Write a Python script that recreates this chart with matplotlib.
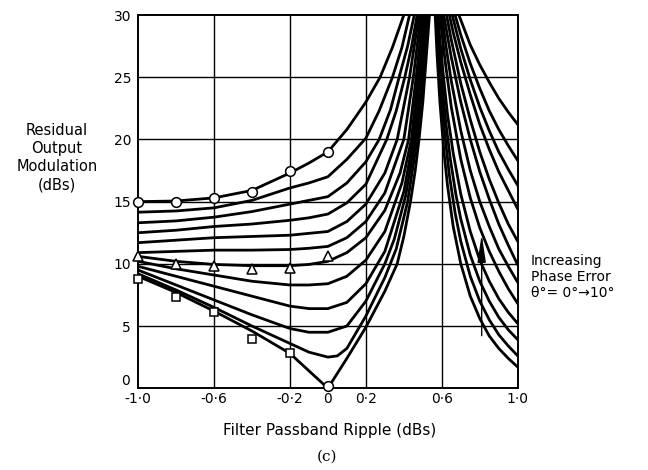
import matplotlib
matplotlib.use("Agg")
import matplotlib.pyplot as plt

# left branches (ripple below the pole), lowest phase error first
c0_lx = [-1.0, -0.8, -0.6, -0.4, -0.2, -0.1, 0.0, 0.1, 0.2, 0.3, 0.365, 0.4, 0.435, 0.46, 0.48, 0.5, 0.515, 0.535]
c0_ly = [9.0, 7.7, 6.2, 4.6, 2.8, 1.4, 0.0, 2.4, 4.9, 7.8, 10.0, 12.2, 15.0, 17.5, 20.0, 23.0, 26.0, 30.0]
c1_lx = [-1.0, -0.8, -0.6, -0.4, -0.2, -0.1, 0.0, 0.05, 0.1, 0.2, 0.3, 0.36, 0.42, 0.47, 0.5, 0.525]
c1_ly = [9.2, 7.9, 6.5, 5.0, 3.6, 2.9, 2.5, 2.6, 3.2, 5.8, 8.9, 11.2, 15.0, 20.0, 25.0, 30.0]
c2_lx = [-1.0, -0.8, -0.6, -0.4, -0.2, -0.1, 0.0, 0.1, 0.2, 0.3, 0.35, 0.41, 0.46, 0.49, 0.52]
c2_ly = [9.5, 8.3, 7.1, 5.9, 4.8, 4.5, 4.5, 5.0, 7.0, 10.0, 12.0, 15.5, 20.0, 24.0, 30.0]
c3_lx = [-1.0, -0.8, -0.6, -0.4, -0.2, -0.1, 0.0, 0.1, 0.2, 0.3, 0.4, 0.45, 0.485, 0.51]
c3_ly = [9.8, 9.0, 8.2, 7.4, 6.6, 6.4, 6.4, 6.9, 8.4, 11.0, 15.8, 20.0, 25.0, 30.0]
c4_lx = [-1.0, -0.8, -0.6, -0.4, -0.2, -0.1, 0.0, 0.1, 0.2, 0.3, 0.39, 0.44, 0.475, 0.505]
c4_ly = [10.2, 9.6, 9.1, 8.6, 8.3, 8.3, 8.4, 9.0, 10.3, 12.6, 16.5, 20.0, 25.0, 30.0]
c5_lx = [-1.0, -0.8, -0.6, -0.4, -0.2, -0.1, 0.0, 0.1, 0.2, 0.3, 0.38, 0.425, 0.465, 0.5]
c5_ly = [10.6, 10.2, 9.95, 9.85, 9.85, 9.95, 10.2, 10.9, 12.1, 14.3, 17.3, 20.0, 25.0, 30.0]
c6_lx = [-1.0, -0.8, -0.6, -0.4, -0.2, -0.1, 0.0, 0.1, 0.2, 0.3, 0.4, 0.45, 0.49]
c6_ly = [10.9, 11.0, 11.1, 11.1, 11.15, 11.25, 11.4, 12.1, 13.4, 15.7, 20.0, 25.0, 30.0]
c7_lx = [-1.0, -0.8, -0.6, -0.4, -0.2, -0.1, 0.0, 0.1, 0.2, 0.3, 0.365, 0.43, 0.48]
c7_ly = [11.7, 11.9, 12.1, 12.2, 12.3, 12.45, 12.6, 13.4, 14.8, 17.3, 20.0, 25.0, 30.0]
c8_lx = [-1.0, -0.8, -0.6, -0.4, -0.2, -0.1, 0.0, 0.1, 0.2, 0.31, 0.36, 0.405, 0.44, 0.47]
c8_ly = [12.5, 12.7, 13.0, 13.2, 13.5, 13.7, 14.0, 14.9, 16.4, 20.0, 22.3, 25.0, 27.4, 30.0]
c9_lx = [-1.0, -0.8, -0.6, -0.4, -0.2, -0.1, 0.0, 0.1, 0.2, 0.27, 0.33, 0.375, 0.42, 0.455]
c9_ly = [13.3, 13.45, 13.75, 14.2, 14.8, 15.1, 15.4, 16.5, 18.2, 20.0, 22.4, 25.0, 27.5, 30.0]
c10_lx = [-1.0, -0.8, -0.6, -0.4, -0.2, -0.1, 0.0, 0.1, 0.2, 0.27, 0.34, 0.39, 0.43]
c10_ly = [14.15, 14.25, 14.5, 15.1, 16.1, 16.5, 17.0, 18.4, 20.1, 22.3, 25.0, 27.4, 30.0]
c11_lx = [-1.0, -0.8, -0.6, -0.4, -0.2, -0.1, 0.0, 0.1, 0.2, 0.275, 0.34, 0.4]
c11_ly = [15.0, 15.05, 15.3, 15.9, 17.3, 18.1, 19.0, 20.8, 23.0, 25.0, 27.4, 30.0]

# right branches (ripple above the pole)
c0_rx = [0.565, 0.575, 0.59, 0.61, 0.63, 0.66, 0.7, 0.75, 0.8, 0.85, 0.9, 0.95, 1.0]
c0_ry = [30.0, 26.8, 23.0, 19.2, 16.3, 13.0, 10.0, 7.4, 5.6, 4.2, 3.2, 2.4, 1.7]
c1_rx = [0.57, 0.58, 0.595, 0.615, 0.64, 0.67, 0.7, 0.75, 0.8, 0.85, 0.9, 0.95, 1.0]
c1_ry = [30.0, 27.3, 24.0, 20.5, 17.1, 14.1, 11.8, 9.0, 7.0, 5.5, 4.3, 3.4, 2.6]
c2_rx = [0.575, 0.585, 0.6, 0.62, 0.645, 0.675, 0.7, 0.75, 0.8, 0.85, 0.9, 0.95, 1.0]
c2_ry = [30.0, 27.7, 24.7, 21.5, 18.4, 15.5, 13.6, 10.7, 8.6, 7.0, 5.7, 4.7, 3.9]
c3_rx = [0.58, 0.59, 0.605, 0.63, 0.66, 0.7, 0.75, 0.8, 0.85, 0.9, 0.95, 1.0]
c3_ry = [30.0, 28.0, 25.6, 22.0, 18.9, 15.6, 12.6, 10.3, 8.6, 7.2, 6.1, 5.2]
c4_rx = [0.59, 0.6, 0.62, 0.65, 0.7, 0.75, 0.8, 0.85, 0.9, 0.95, 1.0]
c4_ry = [30.0, 28.6, 26.0, 22.6, 18.4, 15.3, 12.9, 11.0, 9.4, 8.0, 6.8]
c5_rx = [0.6, 0.62, 0.65, 0.7, 0.75, 0.8, 0.85, 0.9, 0.95, 1.0]
c5_ry = [30.0, 27.7, 24.7, 20.7, 17.5, 15.0, 13.0, 11.2, 9.8, 8.5]
c6_rx = [0.61, 0.65, 0.7, 0.75, 0.8, 0.85, 0.9, 0.95, 1.0]
c6_ry = [30.0, 26.6, 23.0, 20.0, 17.4, 15.2, 13.2, 11.5, 9.9]
c7_rx = [0.625, 0.65, 0.7, 0.75, 0.8, 0.85, 0.9, 0.95, 1.0]
c7_ry = [30.0, 28.0, 24.5, 21.6, 19.0, 16.8, 14.9, 13.2, 11.8]
c8_rx = [0.64, 0.66, 0.7, 0.75, 0.8, 0.85, 0.9, 0.95, 1.0]
c8_ry = [30.0, 28.6, 26.2, 23.6, 21.2, 19.2, 17.4, 15.9, 14.4]
c9_rx = [0.655, 0.7, 0.75, 0.8, 0.85, 0.9, 0.95, 1.0]
c9_ry = [30.0, 27.3, 24.8, 22.6, 20.7, 19.0, 17.6, 16.3]
c10_rx = [0.67, 0.7, 0.75, 0.8, 0.85, 0.9, 0.95, 1.0]
c10_ry = [30.0, 28.4, 26.1, 24.1, 22.3, 20.8, 19.5, 18.3]
c11_rx = [0.69, 0.75, 0.8, 0.85, 0.9, 0.95, 1.0]
c11_ry = [30.0, 27.6, 26.0, 24.6, 23.3, 22.2, 21.2]

# measured points
circ_x = [-1.0, -0.8, -0.6, -0.4, -0.2, 0.0]
circ_y = [15.0, 15.0, 15.3, 15.75, 17.45, 19.0]
tri_x = [-1.0, -0.8, -0.6, -0.4, -0.2, 0.0]
tri_y = [10.6, 10.0, 9.85, 9.6, 9.65, 10.6]
sq_x = [-1.0, -0.8, -0.6, -0.4, -0.2]
sq_y = [8.8, 7.35, 6.15, 3.95, 2.8]
zero_x = [0.0]
zero_y = [0.15]

x_ticks = [-1.0, -0.6, -0.2, 0.0, 0.2, 0.6, 1.0]
x_ticklabels = ["-1·0", "-0·6", "-0·2", "0", "0·2", "0·6", "1·0"]
y_ticks = [0, 5, 10, 15, 20, 25, 30]
y_ticklabels = ["", "5", "10", "15", "20", "25", "30"]


def main():
    fig = plt.figure(figsize=(6.48, 4.70), dpi=100)
    ax = fig.add_axes([0.213, 0.174, 0.586, 0.794])

    # siatka
    for gx in [-0.6, -0.2, 0.2, 0.6]:
        ax.axvline(gx, color="black", lw=1.0, zorder=1)
    for gy in [5, 10, 15, 20, 25]:
        ax.axhline(gy, color="black", lw=1.0, zorder=1)

    left = [(c0_lx, c0_ly), (c1_lx, c1_ly), (c2_lx, c2_ly), (c3_lx, c3_ly),
            (c4_lx, c4_ly), (c5_lx, c5_ly), (c6_lx, c6_ly), (c7_lx, c7_ly),
            (c8_lx, c8_ly), (c9_lx, c9_ly), (c10_lx, c10_ly), (c11_lx, c11_ly)]
    right = [(c0_rx, c0_ry), (c1_rx, c1_ry), (c2_rx, c2_ry), (c3_rx, c3_ry),
             (c4_rx, c4_ry), (c5_rx, c5_ry), (c6_rx, c6_ry), (c7_rx, c7_ry),
             (c8_rx, c8_ry), (c9_rx, c9_ry), (c10_rx, c10_ry), (c11_rx, c11_ry)]
    for xs, ys in left + right:
        ax.plot(xs, ys, color="black", lw=2.0, solid_capstyle="round",
                solid_joinstyle="round", zorder=2)

    mk = dict(ls="none", mfc="white", mec="black", mew=1.1, ms=7, zorder=4, clip_on=False)
    ax.plot(circ_x, circ_y, marker="o", **mk)
    ax.plot(tri_x, tri_y, marker="^", **mk)
    ax.plot(sq_x, sq_y, marker="s", **dict(mk, ms=6))
    ax.plot(zero_x, zero_y, marker="o", **mk)

    # strzałka
    ax.annotate("", xy=(0.81, 12.6), xytext=(0.81, 4.0),
                arrowprops=dict(arrowstyle="-|>,head_length=1.2,head_width=0.18",
                                color="black", lw=1.0, mutation_scale=14))

    ax.set_xlim(-1.0, 1.0)
    ax.set_ylim(0, 30)
    ax.set_xticks(x_ticks)
    ax.set_xticklabels(x_ticklabels)
    ax.set_yticks(y_ticks)
    ax.set_yticklabels(y_ticklabels)
    ax.tick_params(length=0, labelsize=10)
    ax.tick_params(axis="x", pad=3)
    ax.tick_params(axis="y", pad=5)
    for s in ax.spines.values():
        s.set_linewidth(1.4)

    # "0" na osi y troche wyzej, zeby nie wchodzil na "-1·0"
    ax.annotate("0", xy=(0, 0), xycoords="axes fraction", xytext=(-6, 5),
                textcoords="offset points", ha="right", va="center", fontsize=10)

    fig.text(0.088, 0.664, "Residual\nOutput\nModulation\n(dBs)", ha="center",
             va="center", fontsize=10.5, linespacing=1.25)
    fig.text(0.509, 0.085, "Filter Passband Ripple (dBs)", ha="center",
             va="center", fontsize=11)
    fig.text(0.505, 0.028, "(c)", ha="center", va="center", fontsize=11,
             family="DejaVu Serif")
    fig.text(0.819, 0.411, "Increasing\nPhase Error\nθ°= 0°→10°", ha="left",
             va="center", fontsize=10, linespacing=1.2)

    fig.savefig("out.png", dpi=100)
    plt.close(fig)


if __name__ == "__main__":
    main()
